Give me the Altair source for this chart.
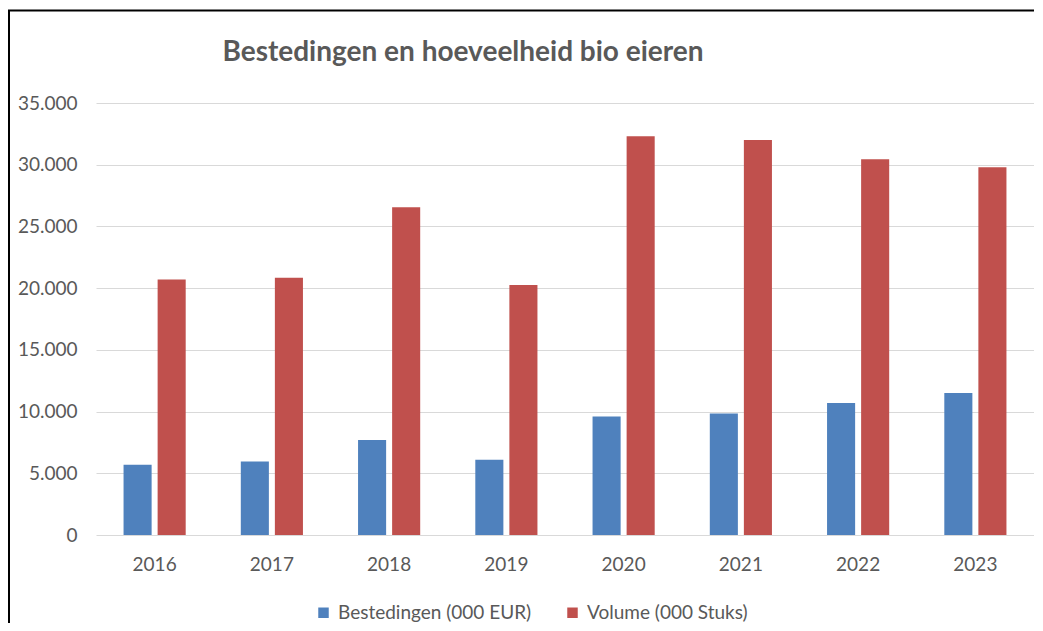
import altair as alt
import pandas as pd

years = ["2016", "2017", "2018", "2019", "2020", "2021", "2022", "2023"]
bestedingen = [5700, 5950, 7700, 6100, 9600, 9850, 10700, 11500]
volume = [20700, 20850, 26550, 20250, 32300, 32000, 30450, 29800]
series_names = ["Bestedingen (000 EUR)", "Volume (000 Stuks)"]
series_colors = ["#4F81BD", "#C0504D"]
y_ticks = [0, 5000, 10000, 15000, 20000, 25000, 30000, 35000]
chart_title = "Bestedingen en hoeveelheid bio eieren"

rows = []
for i, yr in enumerate(years):
    rows.append({"jaar": yr, "reeks": series_names[0], "waarde": bestedingen[i]})
    rows.append({"jaar": yr, "reeks": series_names[1], "waarde": volume[i]})
df = pd.DataFrame(rows)

FONT = "Lato"
GREY = "#595959"

bars = (
    alt.Chart(df)
    .mark_bar()
    .encode(
        x=alt.X(
            "jaar:N",
            sort=years,
            title=None,
            scale=alt.Scale(paddingInner=0.47, paddingOuter=0.235),
            axis=alt.Axis(
                labelAngle=0,
                labelFont=FONT,
                labelFontSize=19,
                labelColor=GREY,
                labelPadding=20,
                ticks=False,
                tickSize=0,
                domain=False,
                grid=False,
            ),
        ),
        xOffset=alt.XOffset(
            "reeks:N",
            sort=series_names,
            scale=alt.Scale(paddingInner=0.176, paddingOuter=0),
        ),
        y=alt.Y(
            "waarde:Q",
            title=None,
            scale=alt.Scale(domain=[0, 35000], nice=False),
            axis=alt.Axis(
                values=y_ticks,
                labelExpr="replace(format(datum.value, ',d'), ',', '.')",
                labelFont=FONT,
                labelFontSize=19,
                labelColor=GREY,
                labelPadding=19,
                ticks=False,
                tickSize=0,
                domain=False,
                grid=True,
                gridColor="#D9D9D9",
                gridWidth=1,
            ),
        ),
        color=alt.Color(
            "reeks:N",
            sort=series_names,
            scale=alt.Scale(domain=series_names, range=series_colors),
            legend=alt.Legend(
                title=None,
                orient="none",
                direction="horizontal",
                legendX=218,
                legendY=500,
                symbolType="square",
                symbolSize=110,
                symbolStrokeWidth=0,
                labelFont=FONT,
                labelFontSize=19,
                labelColor=GREY,
                labelOffset=5,
                labelLimit=0,
                columnPadding=31,
                padding=0,
            ),
        ),
    )
)

single = alt.Data(values=[{"t": chart_title}])
frame_left = alt.Chart(single).mark_rule(color="black", strokeWidth=2).encode(
    x=alt.value(-87), y=alt.value(-93), y2=alt.value(540)
)
frame_top = alt.Chart(single).mark_rule(color="black", strokeWidth=2).encode(
    x=alt.value(-88), x2=alt.value(960), y=alt.value(-92.5)
)
title_text = alt.Chart(single).mark_text(
    font=FONT,
    fontSize=28,
    fontWeight="bold",
    color=GREY,
    align="center",
    baseline="alphabetic",
).encode(text="t:N", x=alt.value(367), y=alt.value(-42))

chart = (
    alt.layer(bars, frame_left, frame_top, title_text)
    .properties(
        width=938,
        height=432,
        autosize=alt.AutoSizeParams(type="none"),
        padding={"left": 88, "top": 95, "right": 0, "bottom": 88},
    )
    .configure_view(stroke=None)
)

chart.save("out.html", embed_options={"renderer": "svg", "actions": False})
